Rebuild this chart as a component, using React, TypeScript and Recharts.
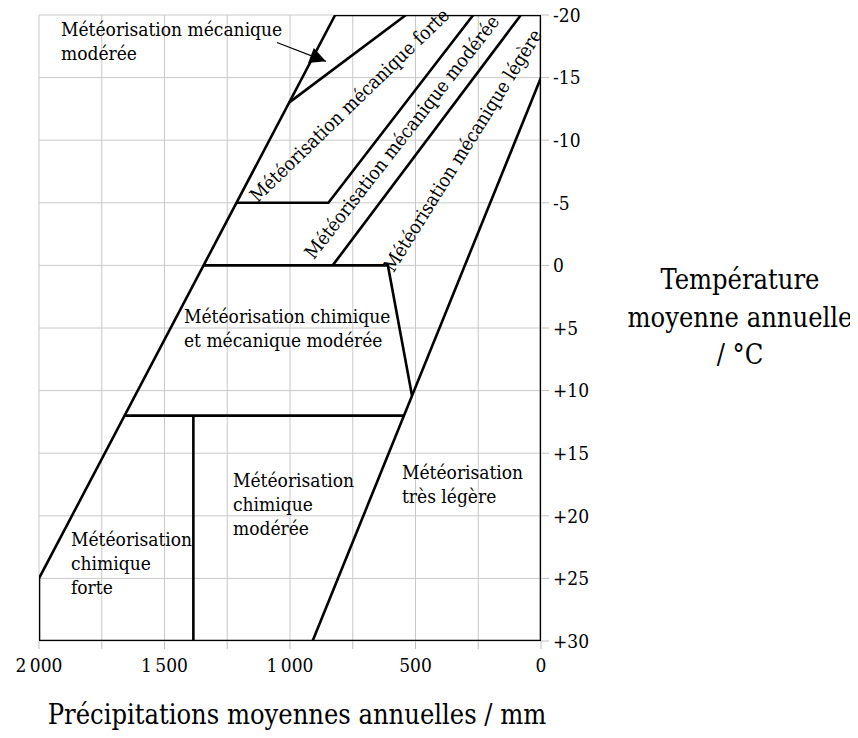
import React from "react";
import { LineChart, Line, XAxis, YAxis, CartesianGrid } from "recharts";

// precipitation (mm) / temperature (°C) boundaries of the weathering regions
const outline = [
  { x: 2000, y: 25 },
  { x: 820, y: -20 },
  { x: 0, y: -20 },
  { x: 0, y: 30 },
  { x: 2000, y: 30 },
  { x: 2000, y: 25 },
];
const mecaForteTop = [
  { x: 1004, y: -13 },
  { x: 538, y: -20 },
];
const mecaForteBottom = [
  { x: 1213, y: -5 },
  { x: 847, y: -5 },
  { x: 270, y: -20 },
];
const mecaLegereLeft = [
  { x: 830, y: 0 },
  { x: 80, y: -20 },
];
const chimMeca = [
  { x: 1344, y: 0 },
  { x: 610, y: 0 },
  { x: 514, y: 10.4 },
];
const tresLegere = [
  { x: 910, y: 30 },
  { x: 0, y: -15 },
];
const line12 = [
  { x: 1659, y: 12 },
  { x: 546, y: 12 },
];
const chimVertical = [
  { x: 1385, y: 12 },
  { x: 1385, y: 30 },
];
const arrow = [
  { x: 1052, y: -17.8 },
  { x: 857, y: -16.3 },
];

const boundaries = [
  outline,
  mecaForteTop,
  mecaForteBottom,
  mecaLegereLeft,
  chimMeca,
  tresLegere,
  line12,
  chimVertical,
];

const xTicks = [0, 250, 500, 750, 1000, 1250, 1500, 1750, 2000];
const yTicks = [-20, -15, -10, -5, 0, 5, 10, 15, 20, 25, 30];

const FONT = "'DejaVu Serif Condensed', 'DejaVu Serif', serif";
const FS = 19;

const fmtX = (v: number) => {
  if (v % 500 !== 0) return "";
  if (v >= 1000) return `${Math.floor(v / 1000)}\u2009${String(v % 1000).padStart(3, "0")}`;
  return String(v);
};
const fmtY = (v: number) => (v > 0 ? `+${v}` : v < 0 ? `-${Math.abs(v)}` : "0");

const ArrowHead = (props: any) => {
  const { cx, cy, index } = props;
  if (index !== arrow.length - 1) return <g key={`a-${index}`} />;
  return (
    <polygon
      key={`a-${index}`}
      points="0,0 -16,-8 -16,8"
      fill="#000"
      transform={`translate(${cx},${cy}) rotate(21)`}
    />
  );
};

const txtStyle = { fontFamily: FONT, fontStretch: "condensed" } as React.CSSProperties;
const lbl = { fontSize: FS, fill: "#000", style: txtStyle };

export default function App() {
  return (
    <div style={{ position: "relative", width: 858, height: 738, margin: "-8px 0 0 -8px" }}>
      <LineChart
        width={858}
        height={738}
        margin={{ top: 15, left: 39, right: 257, bottom: 67 }}
      >
        <CartesianGrid stroke="#c8c8c8" strokeWidth={1} />
        <XAxis
          dataKey="x"
          type="number"
          domain={[0, 2000]}
          reversed
          ticks={xTicks}
          interval={0}
          tickFormatter={fmtX}
          axisLine={false}
          tickSize={8}
          tickMargin={10}
          tickLine={{ stroke: "#bfbfbf" }}
          tick={{ fill: "#000", fontSize: FS, style: txtStyle }}
          height={30}
          allowDataOverflow
        />
        <YAxis
          type="number"
          orientation="right"
          domain={[-20, 30]}
          reversed
          ticks={yTicks}
          interval={0}
          tickFormatter={fmtY}
          axisLine={false}
          tickSize={8}
          tickMargin={4}
          tickLine={{ stroke: "#bfbfbf" }}
          tick={{ fill: "#000", fontSize: FS, textAnchor: "start", style: txtStyle }}
          width={60}
          allowDataOverflow
        />
        {boundaries.map((d, i) => (
          <Line
            key={i}
            data={d}
            dataKey="y"
            stroke="#000"
            strokeWidth={2.6}
            dot={false}
            isAnimationActive={false}
            strokeLinejoin="miter"
          />
        ))}
        <Line
          data={arrow}
          dataKey="y"
          stroke="#000"
          strokeWidth={1.2}
          dot={ArrowHead}
          isAnimationActive={false}
        />
      </LineChart>
      <svg
        width={858}
        height={738}
        style={{ position: "absolute", left: 0, top: 0, pointerEvents: "none" }}
      >
        <text {...lbl} x={61} y={36}>Météorisation mécanique</text>
        <text {...lbl} x={61} y={60}>modérée</text>

        <text {...lbl} textAnchor="middle" transform="translate(354,110) rotate(-44)">
          Météorisation mécanique forte
        </text>
        <text {...lbl} textAnchor="middle" transform="translate(407,141) rotate(-52)">
          Météorisation mécanique modérée
        </text>
        <text {...lbl} textAnchor="middle" transform="translate(468,154) rotate(-58)">
          Météorisation mécanique légère
        </text>

        <text {...lbl} x={184} y={323}>Météorisation chimique</text>
        <text {...lbl} x={184} y={347}>et mécanique modérée</text>

        <text {...lbl} x={233} y={487}>Météorisation</text>
        <text {...lbl} x={233} y={511}>chimique</text>
        <text {...lbl} x={233} y={535}>modérée</text>

        <text {...lbl} x={402} y={479}>Météorisation</text>
        <text {...lbl} x={402} y={503}>très légère</text>

        <text {...lbl} x={71} y={546}>Météorisation</text>
        <text {...lbl} x={71} y={570}>chimique</text>
        <text {...lbl} x={71} y={594}>forte</text>

        <text {...lbl} fontSize={27} textAnchor="middle" x={740} y={289}>Température</text>
        <text {...lbl} fontSize={27} textAnchor="middle" x={740} y={327}>moyenne annuelle</text>
        <text {...lbl} fontSize={27} textAnchor="middle" x={740} y={364}>/ °C</text>

        <text {...lbl} fontSize={27} textAnchor="middle" x={297} y={724}>
          Précipitations moyennes annuelles / mm
        </text>
      </svg>
    </div>
  );
}
